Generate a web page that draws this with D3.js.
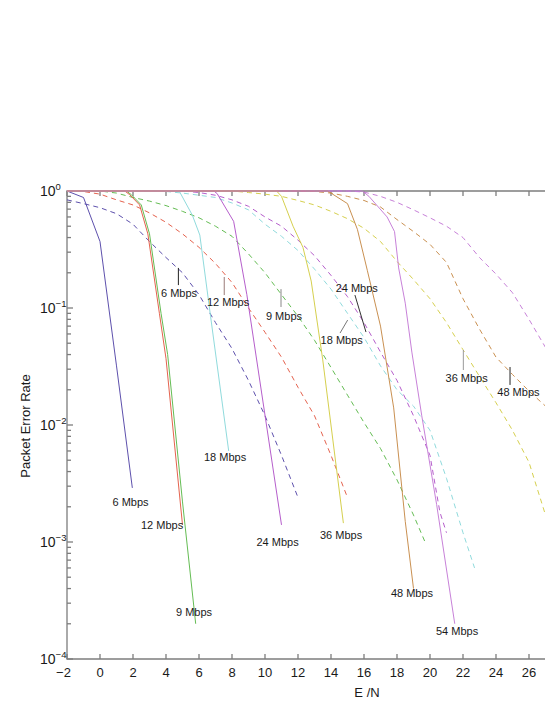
<!DOCTYPE html>
<html lang="en">
<head>
<meta charset="UTF-8">
<title>Packet Error Rate vs E/N</title>
<script src="https://d3js.org/d3.v7.min.js"></script>
<style>
  body { margin: 0; background: #fff; font-family: "Liberation Sans", Arial, sans-serif; }
  svg { display: block; }
</style>
</head>
<body>
<div id="chart"></div>
<script>
// data rates, one colour per rate
const rates = ["6 Mbps", "9 Mbps", "12 Mbps", "18 Mbps", "24 Mbps", "36 Mbps", "48 Mbps", "54 Mbps"];
const colors = ["#5447a8", "#5cb84a", "#e35a45", "#8ad8da", "#b155c8", "#d3cc45", "#c68a48", "#c47ad6"];

// solid curves: [E/N dB, PER]
const solid6  = [[-2, 1], [-1, 0.88], [0, 0.37], [1, 0.032], [1.96, 0.0029]];
const solid9  = [[-2, 1], [1.6, 1], [1.9, 0.93], [2.5, 0.76], [3.0, 0.43], [3.7, 0.09], [4.1, 0.04], [5, 0.0022], [5.8, 0.0002]];
const solid12 = [[-2, 1], [1.5, 1], [1.8, 0.93], [2.4, 0.76], [2.9, 0.43], [3.6, 0.09], [4, 0.037], [5, 0.0014]];
const solid18 = [[-2, 1], [4.8, 1], [5.6, 0.62], [6.05, 0.42], [6.7, 0.085], [7.8, 0.006]];
const solid24 = [[-2, 1], [6.9, 1], [7.1, 0.95], [8.1, 0.55], [8.9, 0.13], [11, 0.0014]];
const solid36 = [[-2, 1], [10.7, 1], [11, 0.9], [11.7, 0.5], [12.3, 0.33], [12.8, 0.17], [13.5, 0.036], [14.75, 0.00145]];
const solid48 = [[-2, 1], [13.8, 1], [15, 0.78], [15.6, 0.47], [16.2, 0.21], [17, 0.07], [17.8, 0.014], [18.5, 0.0015], [19, 0.0004]];
const solid54 = [[-2, 1], [15.9, 1], [16.3, 0.9], [17.4, 0.6], [17.85, 0.45], [18.1, 0.22], [18.5, 0.11], [18.9, 0.042], [19.5, 0.012], [20.4, 0.0021], [21.5, 0.0002]];

// dashed curves
const dashed6  = [[-2, 0.84], [-1, 0.78], [0, 0.72], [1, 0.64], [2, 0.52], [3, 0.37], [4, 0.27], [5, 0.2], [6, 0.13], [7, 0.075], [8, 0.045], [9, 0.024], [10, 0.012], [11, 0.0055], [12, 0.0024]];
const dashed9  = [[-2, 1], [0, 1], [1, 0.96], [2, 0.88], [3, 0.82], [4, 0.75], [5, 0.67], [6, 0.59], [7, 0.5], [8, 0.41], [9, 0.29], [10, 0.2], [11, 0.13], [12, 0.085], [13, 0.053], [14, 0.031], [15, 0.018], [16, 0.0105], [17, 0.0063], [18, 0.0034], [19, 0.0017], [19.7, 0.001]];
const dashed12 = [[-2, 1], [-1, 0.99], [0, 0.94], [1, 0.84], [2, 0.76], [3, 0.65], [4, 0.54], [5, 0.43], [6, 0.33], [7, 0.24], [8, 0.165], [9, 0.1], [10, 0.062], [11, 0.038], [12, 0.021], [13, 0.012], [14, 0.0055], [15, 0.0024]];
const dashed18 = [[-2, 1], [4, 0.99], [5, 0.96], [6, 0.92], [7, 0.88], [8, 0.79], [9, 0.69], [10, 0.52], [11, 0.41], [12, 0.31], [13, 0.215], [14, 0.145], [15, 0.09], [16, 0.056], [17, 0.032], [18, 0.02], [19, 0.0145], [20, 0.009], [21, 0.0035], [22, 0.0012], [22.7, 0.0006]];
const dashed24 = [[-2, 1], [5, 1], [6, 0.97], [7, 0.92], [8, 0.84], [9, 0.74], [10, 0.6], [11, 0.5], [12, 0.38], [13, 0.28], [14, 0.19], [15, 0.125], [16, 0.075], [17, 0.042], [18, 0.024], [19, 0.012], [20, 0.0055], [20.6, 0.0018], [21, 0.0012]];
const dashed36 = [[-2, 1], [8, 1], [9, 0.97], [10, 0.94], [11, 0.9], [12, 0.83], [13, 0.76], [14, 0.67], [15, 0.58], [16, 0.48], [17, 0.37], [18, 0.25], [19, 0.175], [20, 0.12], [21, 0.075], [22, 0.044], [23, 0.026], [24, 0.0155], [25, 0.009], [26, 0.0048], [27, 0.0017]];
const dashed48 = [[-2, 1], [12, 1], [13, 0.99], [14, 0.96], [15, 0.9], [16, 0.83], [17, 0.73], [18, 0.57], [19, 0.45], [20, 0.35], [21, 0.245], [22, 0.12], [23, 0.066], [24, 0.038], [25, 0.027], [26, 0.0195], [27, 0.0145]];
const dashed54 = [[-2, 1], [15, 1], [16, 0.98], [17, 0.9], [18, 0.8], [19, 0.69], [20, 0.59], [21, 0.5], [22, 0.4], [23, 0.27], [24, 0.195], [25, 0.135], [26, 0.08], [27, 0.046]];

const xTicks = [-2, 0, 2, 4, 6, 8, 10, 12, 14, 16, 18, 20, 22, 24, 26];
const yDecades = [-4, -3, -2, -1, 0];

const solids = [solid6, solid9, solid12, solid18, solid24, solid36, solid48, solid54];
const dashes = [dashed6, dashed9, dashed12, dashed18, dashed24, dashed36, dashed48, dashed54];

// annotations (data coords): label anchor for solid curve ends
const solidLabels = [[1.85, 0.00203], [5.7, 0.000233], [3.76, 0.00129], [7.58, 0.00492], [10.76, 0.000925], [14.61, 0.00106], [18.91, 0.000339], [21.64, 0.00016]];
// dashed labels: [rate index, text x, text y, leader x1, y1, x2, y2, leader colour]
const dashedLabels = [
  [0, 4.79, 0.124, 4.75, 0.22, 4.75, 0.157, "#222"],
  [2, 7.76, 0.104, 7.53, 0.184, 7.53, 0.129, "#9a7a78"],
  [1, 11.15, 0.0789, 10.97, 0.145, 10.97, 0.102, "#888"],
  [3, 14.65, 0.0492, 15.01, 0.0789, 14.55, 0.0611, "#777"],
  [4, 15.56, 0.137, 15.45, 0.129, 16.12, 0.0623, "#333"],
  [5, 22.22, 0.0233, 22.02, 0.0438, 22.02, 0.0295, "#999"],
  [6, 25.36, 0.0177, 24.85, 0.0313, 24.85, 0.022, "#222"]
];

const W = 545, H = 705;
const svg = d3.select("#chart").append("svg").attr("width", W).attr("height", H);

const x = d3.scaleLinear().domain([-2, 27]).range([67, 545.5]);
const y = d3.scaleLog().domain([1e-4, 1]).range([659, 191]);

svg.append("clipPath").attr("id", "plot")
  .append("rect").attr("x", 67).attr("y", 190).attr("width", 480).attr("height", 470);

const axisColor = "#7d7d7d";

// minor + major y ticks
const yMinor = [];
yDecades.slice(0, -1).forEach(e => { for (let k = 2; k <= 9; k++) yMinor.push(k * Math.pow(10, e)); });
const yMajor = yDecades.map(e => Math.pow(10, e));

const gAxes = svg.append("g").attr("stroke", axisColor).attr("stroke-width", 1.3);

gAxes.selectAll(".ymaj").data(yMajor).join("line")
  .attr("x1", 67).attr("x2", 73).attr("y1", d => y(d)).attr("y2", d => y(d));
gAxes.selectAll(".ymin").data(yMinor).join("line")
  .attr("x1", 67).attr("x2", 71).attr("y1", d => y(d)).attr("y2", d => y(d));
gAxes.selectAll(".xbot").data(xTicks).join("line")
  .attr("x1", d => x(d)).attr("x2", d => x(d)).attr("y1", 659).attr("y2", 654);
gAxes.selectAll(".xtop").data(xTicks).join("line")
  .attr("x1", d => x(d)).attr("x2", d => x(d)).attr("y1", 191).attr("y2", 196);

// curves
const line = d3.line().x(d => x(d[0])).y(d => y(d[1]));
const gLines = svg.append("g").attr("clip-path", "url(#plot)").attr("fill", "none").attr("stroke-width", 0.95);

gLines.selectAll(".dash").data(dashes).join("path")
  .attr("d", line)
  .attr("stroke", (d, i) => colors[i])
  .attr("stroke-dasharray", "5,4");

gLines.selectAll(".solid").data(solids).join("path")
  .attr("d", line)
  .attr("stroke", (d, i) => colors[i]);

// frame (left, bottom, top)
gAxes.append("path").attr("fill", "none")
  .attr("d", `M545,191H67V659H545`);

// tick labels
const gText = svg.append("g").attr("fill", "#1a1a1a");
gText.selectAll(".xl").data(xTicks).join("text")
  .attr("x", d => x(d) + (d < 0 ? -3.5 : 0)).attr("y", 677)
  .attr("text-anchor", "middle").attr("font-size", 13)
  .text(d => d < 0 ? "\u2212" + Math.abs(d) : d);

const yl = gText.selectAll(".yl").data(yDecades).join("text")
  .attr("x", 40).attr("y", d => y(Math.pow(10, d)) + 5)
  .attr("font-size", 14);
yl.append("tspan").text("10");
yl.append("tspan").attr("dy", -6).attr("font-size", 9.5)
  .text(d => d < 0 ? "\u2212" + Math.abs(d) : d);

gText.append("text").attr("x", 367).attr("y", 697).attr("text-anchor", "middle")
  .attr("font-size", 13).text("E /N");
gText.append("text").attr("transform", "translate(30,426) rotate(-90)")
  .attr("text-anchor", "middle").attr("font-size", 13).text("Packet Error Rate");

// curve labels
const gLab = svg.append("g").attr("font-size", 11).attr("fill", "#1a1a1a");
gLab.selectAll(".sl").data(solidLabels).join("text")
  .attr("x", d => x(d[0])).attr("y", d => y(d[1]))
  .attr("text-anchor", "middle")
  .text((d, i) => rates[i]);

gLab.selectAll(".ll").data(dashedLabels).join("line")
  .attr("x1", d => x(d[3])).attr("y1", d => y(d[4]))
  .attr("x2", d => x(d[5])).attr("y2", d => y(d[6]))
  .attr("stroke", d => d[7]).attr("stroke-width", 1);
gLab.selectAll(".dl").data(dashedLabels).join("text")
  .attr("x", d => x(d[1])).attr("y", d => y(d[2]))
  .attr("text-anchor", "middle")
  .text(d => rates[d[0]]);
</script>
</body>
</html>
